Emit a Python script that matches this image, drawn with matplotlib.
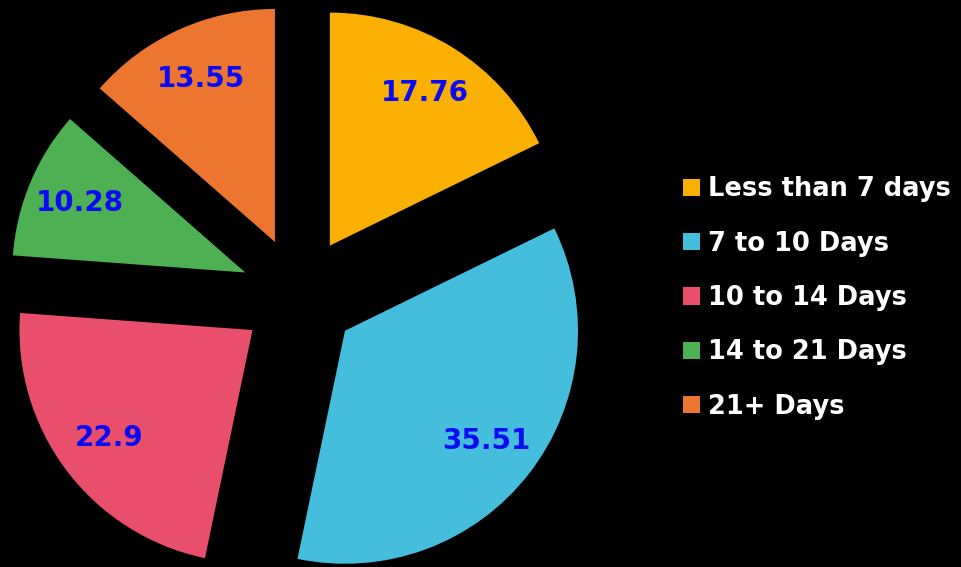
import matplotlib.pyplot as plt

categories = ['Less than 7 days', '7 to 10 Days', '10 to 14 Days', '14 to 21 Days', '21+ Days']
values = [17.76, 35.51, 22.9, 10.28, 13.55]
value_labels = ['17.76', '35.51', '22.9', '10.28', '13.55']
colors = ['#F9B000', '#45BEDE', '#E94F6B', '#4DB053', '#EC762F']


def main():
    fig = plt.figure(figsize=(9.61, 5.67), dpi=100, facecolor='black')
    ax = fig.add_axes([0, 0, 1, 1])
    ax.set_facecolor('black')

    # pie centre sits at (299, 295) px, radius 233 px
    r = 233.0
    wedges, texts = ax.pie(values, labels=value_labels, colors=colors,
                           startangle=90, counterclock=False,
                           explode=[0.25] * len(values), radius=1,
                           labeldistance=0.77,
                           wedgeprops=dict(linewidth=0),
                           textprops=dict(color='#0A0AF5', fontsize=20,
                                          fontweight='bold',
                                          ha='center', va='center'))
    ax.set_xlim(-299 / r, (961 - 299) / r)
    ax.set_ylim(-(567 - 295) / r, 295 / r)
    ax.set_aspect('equal')
    ax.axis('off')

    leg = fig.legend(wedges, categories, loc='center left',
                     bbox_to_anchor=(683 / 961, 1 - 298 / 567),
                     frameon=False, borderpad=0, borderaxespad=0,
                     handlelength=0.66, handleheight=0.66,
                     handletextpad=0.31, labelspacing=1.1,
                     prop=dict(size=18.5, weight='bold'))
    for t in leg.get_texts():
        t.set_color('white')

    fig.savefig('out.png', dpi=100, facecolor='black')


if __name__ == "__main__":
    main()
